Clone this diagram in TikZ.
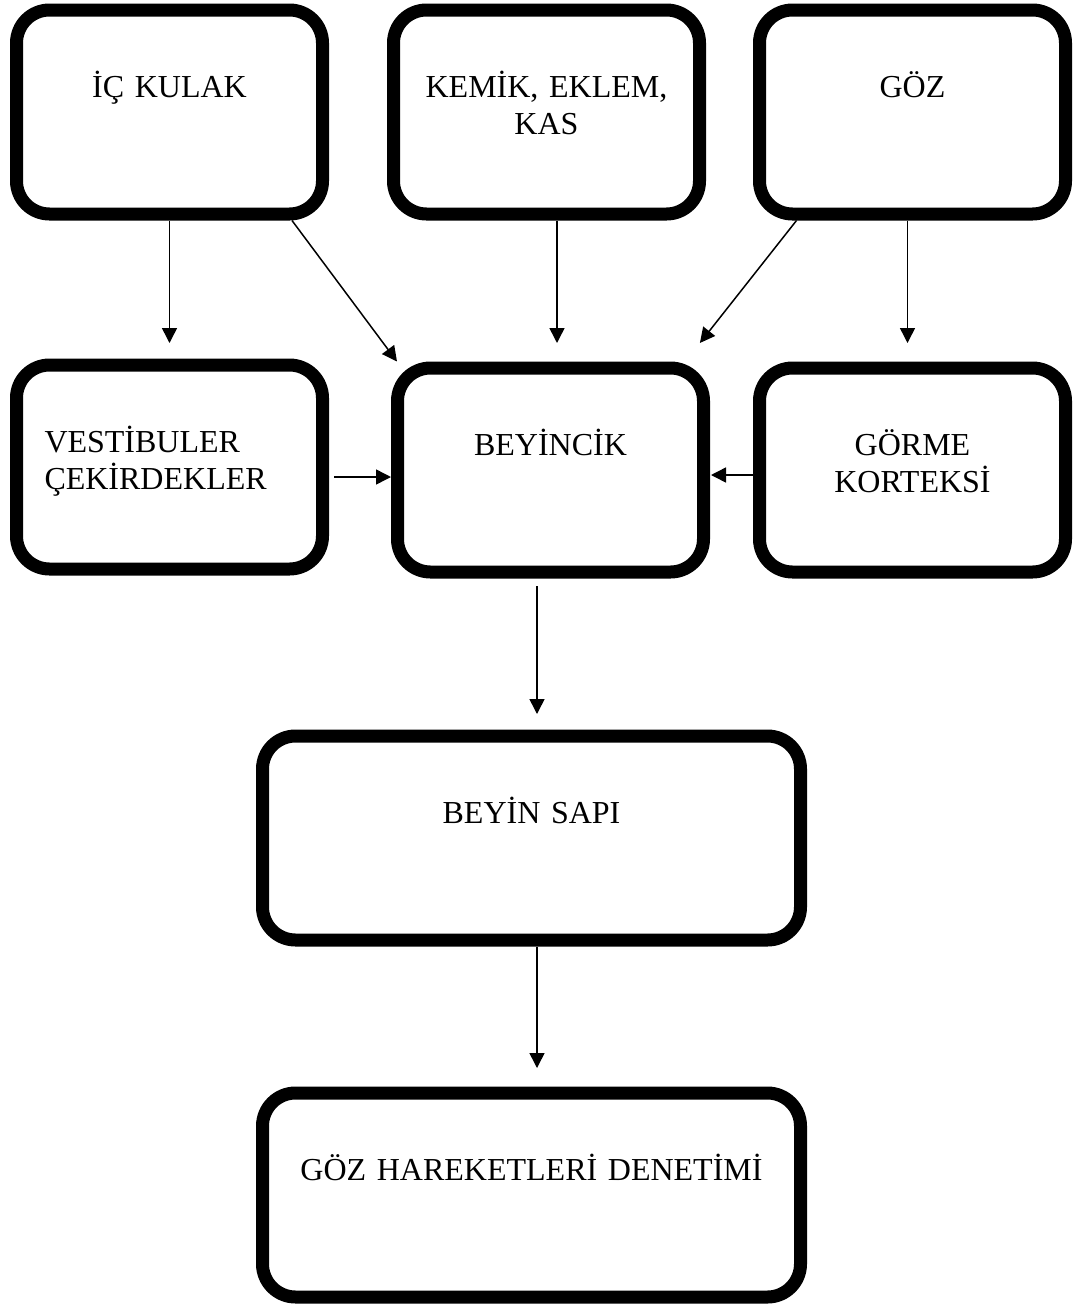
\documentclass[tikz,border=0pt]{standalone}
\usepackage{fontspec}
\setmainfont{Liberation Serif}
\usetikzlibrary{positioning}
\usetikzlibrary{arrows.meta}

\begin{document}
\begin{tikzpicture}[
                x=1pt, y=-1pt,
                block/.style={rectangle, draw, line width=13pt, rounded corners=33pt, fill=white, text width=250pt, align=center, minimum width=306pt, inner sep=0pt, text height=87pt, text depth=117pt, font=\fontsize{32pt}{37pt}\selectfont},
                wideblock/.style={block, text width=478pt, minimum width=538pt},
                line/.style={draw, line width=1.5pt, -{Triangle[length=15pt, width=15pt]}}
            ]
                \useasboundingbox (0,0) rectangle (1079,1307);

                % Inputs
                \node[block] (ickulak) at (169.5,112) {İÇ KULAK};
                \node[block, right=58pt of ickulak] (kemik) {KEMİK, EKLEM,\\ KAS};
                \node[block, right=47pt of kemik] (goz) {GÖZ};

                % Middle row
                \node[block, align=left, below=138pt of ickulak] (vestibuler) {VESTİBULER\\ ÇEKİRDEKLER};
                \node[block, below=141pt of kemik, xshift=4pt] (beyincik) {BEYİNCİK};
                \node[block, below=141pt of goz] (gorme) {GÖRME\\ KORTEKSİ};

                % Output
                \node[wideblock, below=151pt of beyincik, xshift=-19pt] (sap) {BEYİN SAPI};
                \node[wideblock, below=140pt of sap] (denetim) {GÖZ HAREKETLERİ DENETİMİ};

                \path[line, shorten >=15.5pt] (ickulak.south) -- (vestibuler.north);
                \path[line] ([xshift=122.5pt]ickulak.south) -- ([xshift=6pt]beyincik.north west);
                \path[line, shorten >=18.5pt] ([xshift=10.5pt]kemik.south) -- ([xshift=6.5pt]beyincik.north);
                \path[line, shorten >=23.6pt] ([xshift=-116pt]goz.south) -- ([xshift=-24.7pt]beyincik.north east);
                \path[line, shorten >=18.5pt] ([xshift=-5pt]goz.south) -- ([xshift=-5pt]gorme.north);
                \path[line, shorten <=5pt] ([yshift=-10pt]vestibuler.east) -- ([yshift=-10pt]vestibuler.east -| beyincik.west);
                \path[line, shorten >=1pt] ([yshift=-5pt]gorme.west) -- ([yshift=-5pt]beyincik.east);
                \path[line, shorten <=7.5pt, shorten >=15.5pt] ([xshift=-13.5pt]beyincik.south) -- ([xshift=5.5pt]sap.north);
                \path[line, shorten >=18.5pt] ([xshift=5.5pt]sap.south) -- ([xshift=5.5pt]denetim.north);
            \end{tikzpicture}
\end{document}
